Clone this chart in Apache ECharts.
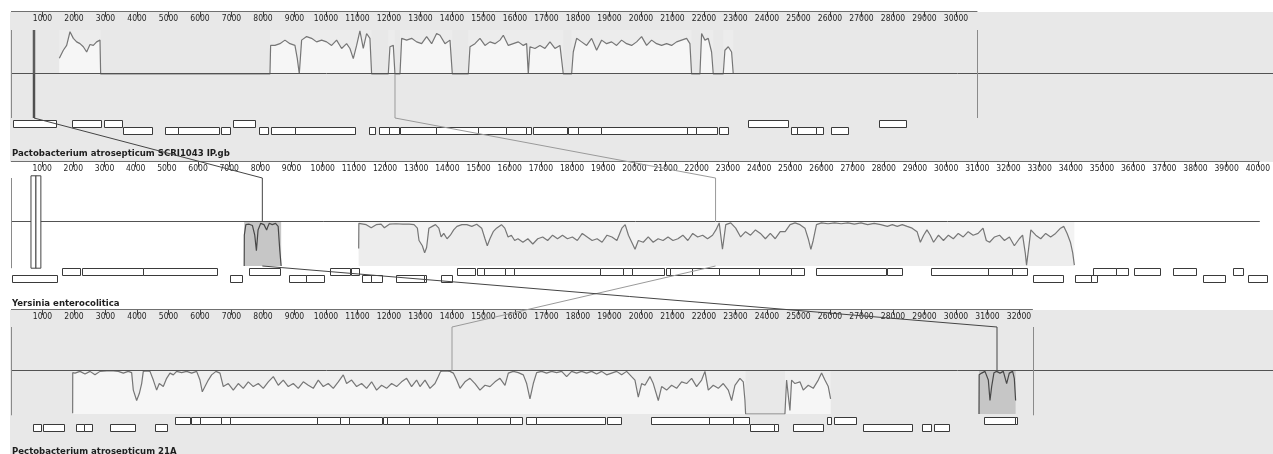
<!DOCTYPE html>
<html><head><meta charset="utf-8">
<script src="https://cdn.jsdelivr.net/npm/echarts@6/dist/echarts.min.js"></script>
<style>html,body{margin:0;padding:0;background:#fff;}#c{width:1273px;height:454px;}</style>
</head><body><div id="c"></div>
<script>
// ---------- data ----------
var genomeNames = ['Pactobacterium atrosepticum SCRI1043 IP.gb', 'Yersinia enterocolitica', 'Pectobacterium atrosepticum 21A'];
var genomeLen = [30680, 40400, 32440];
var ticks = [1000,2000,3000,4000,5000,6000,7000,8000,9000,10000,11000,12000,13000,14000,15000,16000,17000,18000,19000,20000,21000,22000,23000,24000,25000,26000,27000,28000,29000,30000,31000,32000,33000,34000,35000,36000,37000,38000,39000,40000];

// similarity profile, genome 1 (forward block: value = similarity above centre)
var profile1 = [[1534,0.36],[1661,0.54],[1767,0.65],[1873,0.96],[1979,0.81],[2084,0.73],[2190,0.69],[2296,0.62],[2402,0.5],[2508,0.67],[2613,0.65],[2719,0.73],[2825,0.77],[2846,0],
[8221,0],[8242,0.65],[8380,0.65],[8538,0.69],[8697,0.77],[8856,0.69],[9014,0.65],[9089,0.35],[9152,0],[9226,0.77],[9385,0.85],[9543,0.81],[9702,0.73],[9861,0.77],[10019,0.73],[10178,0.65],[10337,0.77],[10496,0.58],[10654,0.69],[10760,0.58],[10866,0.35],[10972,0.65],[11077,0.98],[11183,0.58],[11289,0.92],[11395,0.81],[11448,0],
[11977,0],[12030,0.62],[12136,0.65],[12189,0],
[12349,0],[12402,0.81],[12560,0.77],[12719,0.81],[12878,0.73],[13036,0.69],[13195,0.85],[13354,0.69],[13512,0.92],[13618,0.88],[13777,0.69],[13936,0.77],[14010,0],
[14518,0],[14571,0.62],[14729,0.69],[14888,0.81],[15047,0.65],[15205,0.73],[15364,0.69],[15523,0.77],[15629,0.88],[15787,0.65],[15946,0.69],[16105,0.73],[16263,0.65],[16369,0.69],[16422,0],[16475,0.62],[16634,0.58],[16792,0.65],[16951,0.58],[17110,0.73],[17268,0.58],[17427,0.65],[17533,0],
[17797,0],[17850,0.5],[17956,0.81],[18115,0.73],[18274,0.65],[18432,0.81],[18591,0.54],[18750,0.77],[18908,0.69],[19067,0.73],[19226,0.65],[19384,0.77],[19543,0.69],[19702,0.65],[19861,0.73],[20019,0.85],[20178,0.65],[20337,0.77],[20495,0.69],[20654,0.65],[20813,0.69],[20971,0.65],[21130,0.73],[21289,0.77],[21448,0.81],[21553,0.69],[21606,0],
[21871,0],[21924,0.92],[22029,0.77],[22135,0.81],[22241,0.5],[22294,0],
[22611,0],[22664,0.54],[22770,0.62],[22876,0.5],[22929,0]];

// genome 2 (inverted block: value = -depth below centre)
var profile2 = [[11154,-0.6],[11160,-0.03],[11186,-0.05],[11397,-0.06],[11556,-0.13],[11715,-0.06],[11873,-0.05],[11979,-0.13],[12138,-0.05],[12349,-0.04],[12561,-0.05],[12773,-0.05],[12931,-0.06],[13037,-0.14],[13090,-0.42],[13196,-0.54],[13270,-0.7],[13333,-0.58],[13407,-0.14],[13513,-0.1],[13619,-0.06],[13725,-0.14],[13799,-0.34],[13883,-0.26],[13989,-0.38],[14095,-0.3],[14201,-0.18],[14307,-0.1],[14465,-0.06],[14624,-0.06],[14783,-0.1],[14941,-0.05],[15100,-0.14],[15206,-0.38],[15280,-0.54],[15365,-0.38],[15470,-0.22],[15576,-0.14],[15735,-0.06],[15841,-0.14],[15947,-0.34],[16052,-0.3],[16158,-0.42],[16264,-0.38],[16423,-0.46],[16581,-0.38],[16740,-0.5],[16899,-0.38],[17057,-0.34],[17216,-0.42],[17375,-0.3],[17534,-0.38],[17692,-0.3],[17851,-0.38],[18010,-0.34],[18168,-0.42],[18327,-0.26],[18486,-0.34],[18644,-0.42],[18803,-0.38],[18962,-0.46],[19121,-0.3],[19279,-0.34],[19438,-0.42],[19597,-0.14],[19703,-0.06],[19808,-0.3],[19914,-0.46],[20020,-0.62],[20126,-0.42],[20284,-0.46],[20443,-0.34],[20602,-0.46],[20760,-0.38],[20919,-0.42],[21078,-0.34],[21237,-0.42],[21395,-0.38],[21554,-0.3],[21713,-0.42],[21871,-0.26],[22030,-0.34],[22189,-0.3],[22347,-0.38],[22506,-0.3],
[22614,-0.18],[22720,-0.02],[22825,-0.62],[22931,-0.06],[23090,-0.02],[23249,-0.14],[23407,-0.34],[23566,-0.22],[23725,-0.3],[23883,-0.18],[24042,-0.26],[24201,-0.38],[24360,-0.26],[24518,-0.38],[24677,-0.22],[24836,-0.22],[24994,-0.06],[25153,-0.02],[25312,-0.06],[25470,-0.14],[25576,-0.38],[25661,-0.62],[25735,-0.42],[25841,-0.06],[25999,-0.02],[26211,-0.04],[26423,-0.02],[26634,-0.04],[26846,-0.02],[27057,-0.05],[27269,-0.02],[27481,-0.06],[27692,-0.03],[27904,-0.06],[28115,-0.1],[28274,-0.06],[28433,-0.1],[28592,-0.06],[28750,-0.1],[28909,-0.14],[29068,-0.22],[29173,-0.46],[29279,-0.3],[29385,-0.18],[29491,-0.3],[29597,-0.46],[29755,-0.3],[29914,-0.42],[30073,-0.3],[30231,-0.38],[30390,-0.26],[30549,-0.34],[30708,-0.22],[30866,-0.3],[31025,-0.26],[31184,-0.14],[31289,-0.42],[31395,-0.46],[31554,-0.34],[31713,-0.3],[31871,-0.42],[32030,-0.34],[32189,-0.54],[32347,-0.38],[32453,-0.3],[32538,-0.7],[32580,-0.98],[32644,-0.62],[32718,-0.18],[32876,-0.3],[33035,-0.38],[33194,-0.26],[33353,-0.34],[33511,-0.26],[33670,-0.14],[33776,-0.1],[33882,-0.26],[33987,-0.46],[34061,-0.7],[34114,-0.98]];

// genome 3 (inverted block)
var profile3 = [[1957,-0.98],[1960,-0.05],[2032,-0.06],[2190,-0.02],[2349,-0.08],[2508,-0.02],[2666,-0.1],[2825,-0.02],[3037,-0.01],[3248,-0.01],[3407,-0.02],[3566,-0.06],[3724,-0.02],[3830,-0.05],[3883,-0.45],[3989,-0.69],[4073,-0.53],[4148,-0.3],[4200,-0.02],[4306,-0.01],[4412,-0.02],[4518,-0.22],[4624,-0.45],[4708,-0.3],[4835,-0.37],[4941,-0.18],[5047,-0.06],[5153,-0.1],[5258,-0.02],[5417,-0.05],[5576,-0.02],[5735,-0.06],[5893,-0.02],[5999,-0.22],[6073,-0.49],[6158,-0.37],[6264,-0.22],[6369,-0.1],[6507,-0.02],[6634,-0.06],[6740,-0.37],[6898,-0.3],[7057,-0.45],[7216,-0.3],[7374,-0.41],[7533,-0.26],[7692,-0.37],[7851,-0.3],[8009,-0.41],[8168,-0.26],[8327,-0.14],[8485,-0.34],[8644,-0.22],[8803,-0.37],[8961,-0.3],[9120,-0.41],[9279,-0.26],[9438,-0.34],[9596,-0.41],[9755,-0.22],[9914,-0.37],[10072,-0.3],[10231,-0.41],[10390,-0.26],[10548,-0.1],[10654,-0.3],[10813,-0.22],[10972,-0.37],[11130,-0.3],[11289,-0.41],[11448,-0.26],[11606,-0.45],[11765,-0.34],[11924,-0.41],[12083,-0.3],[12241,-0.37],[12400,-0.26],[12559,-0.18],[12717,-0.37],[12876,-0.22],
[12984,-0.37],[13143,-0.22],[13301,-0.41],[13460,-0.3],[13566,-0.14],[13640,-0.02],[13778,-0.01],[13936,-0.02],[14042,-0.06],[14148,-0.22],[14254,-0.41],[14412,-0.26],[14571,-0.18],[14730,-0.3],[14888,-0.45],[15047,-0.34],[15206,-0.37],[15365,-0.26],[15523,-0.18],[15682,-0.34],[15788,-0.06],[15946,-0.02],[16105,-0.05],[16264,-0.1],[16370,-0.3],[16475,-0.65],[16581,-0.3],[16687,-0.05],[16846,-0.02],[17004,-0.06],[17163,-0.02],[17322,-0.05],[17481,-0.02],[17639,-0.14],[17798,-0.02],[17957,-0.06],[18115,-0.02],[18274,-0.06],[18433,-0.02],[18591,-0.08],[18750,-0.02],[18909,-0.1],[19068,-0.06],[19226,-0.02],[19385,-0.1],[19544,-0.02],[19702,-0.14],[19808,-0.22],[19914,-0.61],[20020,-0.3],[20126,-0.34],[20284,-0.14],[20390,-0.3],[20549,-0.69],[20655,-0.37],[20813,-0.45],[20972,-0.34],[21131,-0.41],[21289,-0.26],[21448,-0.3],[21607,-0.18],[21765,-0.37],[21924,-0.22],[22030,-0.02],[22136,-0.45],[22294,-0.34],[22453,-0.41],[22612,-0.3],[22771,-0.45],[22876,-0.69],[22982,-0.34],[23141,-0.18],[23247,-0.26],[23300,-0.69],[23321,-1],
[24569,-1],[24622,-0.22],[24675,-0.18],[24728,-0.92],[24781,-0.22],[24887,-0.3],[25045,-0.26],[25151,-0.45],[25310,-0.34],[25468,-0.41],[25627,-0.22],[25733,-0.06],[25839,-0.22],[25945,-0.37],[26019,-0.65]];

// small dark (second) LCB profiles
var darkProfile2 = [[7481,-1],[7485,-0.3],[7534,-0.06],[7640,-0.05],[7746,-0.08],[7820,-0.3],[7873,-0.65],[7926,-0.18],[8011,-0.03],[8116,-0.06],[8201,-0.18],[8243,-0.1],[8286,-0.03],[8381,-0.06],[8487,-0.03],[8571,-0.1],[8624,-0.65],[8667,-1]];
var darkProfile3 = [[30730,-1],[30735,-0.1],[30814,-0.06],[30920,-0.02],[31026,-0.22],[31079,-0.69],[31132,-0.37],[31206,-0.05],[31290,-0.02],[31396,-0.06],[31502,-0.02],[31608,-0.3],[31692,-0.06],[31798,-0.02],[31851,-0.18],[31893,-0.69]];

// LCB block extents [start, end, yTop, yBottom]
var blocks1 = [[1534,2846,1,0],[8221,11448,1,0],[11977,12189,1,0],[12349,14010,1,0],[14518,17533,1,0],[17797,21606,1,0],[21871,22294,1,0],[22611,22929,1,0]];
var blocks2 = [[11154,34114,0,-1]];
var blocks3 = [[1957,23321,0,-1],[24569,26019,0,-1]];
var darkBlocks2 = [[7481,8667,0,-1]];
var darkBlocks3 = [[30730,31893,0,-1]];
var narrowBlock1 = [[690,770,1,-1]];
var openBlocks2 = [[641,800,1.05,-1.05],[800,958,1.05,-1.05]];

// LCB link anchor positions in the three genomes
var linkBig = [12190, 22603, 14000];
var linkDark = [730, 8063, 31302];

// annotated features [start, end, row]
var genes1 = [[57,1413,0],[1943,2851,0],[2968,3518,0],[7041,7752,0],[23381,24673,0],[27549,28397,0],
[3540,4470,1],[4883,5295,1],[5295,6619,1],[6651,6968,1],[7867,8152,1],[8248,9022,1],[9022,10914,1],[11371,11562,1],[11676,11994,1],[11994,12311,1],[12365,13492,1],[13492,14822,1],[14822,15705,1],[15705,16356,1],[16356,16514,1],[16587,17638,1],[17686,17987,1],[17987,18727,1],[18727,21470,1],[21470,21759,1],[21759,22400,1],[22473,22765,1],[24771,24952,1],[24952,25568,1],[25568,25762,1],[26029,26559,1]];
var genes2 = [[1646,2206,0],[2280,4248,0],[4248,6619,0],[7644,8641,0],[10248,10883,0],[10905,11149,0],[14323,14873,0],[14937,15168,0],[15168,15857,0],[15857,16152,0],[16152,18905,0],[18905,19645,0],[19645,19931,0],[19931,20959,0],[21010,21149,0],[21149,21835,0],[21835,22705,0],[22705,24006,0],[24006,25010,0],[25010,25435,0],[25825,28079,0],[28111,28578,0],[29518,31359,0],[31359,32101,0],[32101,32609,0],[34724,35435,0],[35435,35825,0],[36038,36863,0],[37286,38006,0],[39213,39530,0],
[37,1486,1],[7041,7413,1],[8914,9467,1],[9467,10057,1],[11254,11540,1],[11540,11889,1],[12365,13260,1],[13260,13302,1],[13794,14143,1],[32787,33752,1],[34121,34641,1],[34641,34832,1],[38248,38946,1],[39698,40300,1]];
var genes3 = [[693,937,1],[1010,1676,1],[2069,2333,1],[2333,2576,1],[3137,3931,1],[4567,4958,1],[23454,24238,1],[24238,24343,1],[24819,25771,1],[27041,28610,1],[28927,29212,1],[29295,29784,1],
[5200,5698,0],[5730,5994,0],[5994,6660,0],[6660,6968,0],[6968,9721,0],[9721,10460,0],[10460,10746,0],[10746,11762,0],[11816,11943,0],[11943,12629,0],[12629,13530,0],[13530,14800,0],[14800,15835,0],[15835,16229,0],[16343,16651,0],[16651,18873,0],[18927,19371,0],[20311,22152,0],[22152,22914,0],[22914,23422,0],[25889,26038,0],[26120,26841,0],[30883,31867,0],[31867,31943,0]];

// ---------- layout ----------
var W = 1273, LEFT = 11, PXPERBP = 0.0315;
var XMAX = (W - LEFT) / PXPERBP;
var gridTop = [30, 178, 327], gridH = [88, 88, 87];
var axisGap = [18, 16, 17];
var geneGap = [2, 2, 3];
var bandColor = '#e8e8e8';
var AXFONT = '"DejaVu Sans Condensed", "DejaVu Sans", sans-serif';

var chart = echarts.init(document.getElementById('c'), null, {renderer: 'canvas'});

function rectItem(fill, stroke) {
  return function (params, api) {
    var a = api.coord([api.value(0), api.value(2)]);
    var b = api.coord([api.value(1), api.value(3)]);
    return {type: 'rect', shape: {x: a[0], y: Math.min(a[1], b[1]), width: Math.max(1, b[0] - a[0]), height: Math.abs(b[1] - a[1])},
      style: {fill: fill, stroke: stroke || null, lineWidth: 1}};
  };
}
function geneItem(gap) {
  return function (params, api) {
    var a = api.coord([api.value(0), -1]);
    var b = api.coord([api.value(1), -1]);
    var x0 = Math.round(a[0]), x1 = Math.round(b[0]);
    var y = Math.round(a[1]) + gap + api.value(2) * 7;
    return {type: 'rect', shape: {x: x0 + 0.5, y: y + 0.5, width: Math.max(1, x1 - x0), height: 7},
      style: {fill: '#ffffff', stroke: '#3a3a3a', lineWidth: 1}};
  };
}
function vlineItem(color) {
  return function (params, api) {
    var a = api.coord([api.value(0), api.value(1)]);
    var b = api.coord([api.value(0), api.value(2)]);
    var x = Math.round(a[0]) + 0.5;
    return {type: 'line', shape: {x1: x, y1: a[1], x2: x, y2: b[1]}, style: {stroke: color, lineWidth: 1}};
  };
}
function hlineItem(gap, color) {
  return function (params, api) {
    var a = api.coord([api.value(0), api.value(2)]);
    var b = api.coord([api.value(1), api.value(2)]);
    var y = Math.round(a[1] - gap) - 0.5;
    return {type: 'line', shape: {x1: a[0], y1: y, x2: b[0], y2: y}, style: {stroke: color, lineWidth: 1}};
  };
}

var grids = [], xAxes = [], yAxes = [], series = [];
for (var i = 0; i < 3; i++) {
  var len = genomeLen[i];
  var tv = ticks.filter(function (v) { return v <= len; });
  grids.push({left: LEFT, right: 0, top: gridTop[i], height: gridH[i]});
  xAxes.push({type: 'value', gridIndex: i, min: 0, max: XMAX, position: 'top', offset: axisGap[i],
    axisLine: {show: false, onZero: false}, splitLine: {show: false},
    axisTick: {show: true, inside: true, length: 5, customValues: tv, lineStyle: {color: '#444', width: 1}},
    axisLabel: {show: true, inside: true, margin: 2, customValues: tv, fontSize: 8.5, fontFamily: AXFONT, color: '#1e1e1e',
      formatter: function (v) { return String(v); }}});
  yAxes.push({type: 'value', gridIndex: i, min: -1, max: 1, show: false});
  // top axis line (ends at genome length)
  series.push({type: 'custom', xAxisIndex: i, yAxisIndex: i, z: 1, silent: true,
    renderItem: hlineItem(axisGap[i], '#707070'), encode: {x: [0, 1], y: 2}, data: [[0, Math.min(len, XMAX), 1]]});
  // centre line (full width)
  series.push({type: 'custom', xAxisIndex: i, yAxisIndex: i, z: 3, silent: true,
    renderItem: hlineItem(0, '#525252'), encode: {x: [0, 1], y: 2}, data: [[0, XMAX, 0]]});
  series.push({type: 'custom', xAxisIndex: i, yAxisIndex: i, z: 4, silent: true,
    renderItem: geneItem(geneGap[i]), encode: {x: [0, 1], y: 2}, data: [genes1, genes2, genes3][i]});
  var bl = [[0, 1, -1]];
  if (len < XMAX) bl.push([len, 1, -1]);
  if (i === 1) bl = [[0, 1, -1.05]];
  if (i === 2) bl = [[0, 1, -1.03], [len, 1, -1.03]];
  series.push({type: 'custom', xAxisIndex: i, yAxisIndex: i, z: 3, silent: true,
    renderItem: vlineItem('#8a8a8a'), encode: {x: 0, y: [1, 2]}, data: bl});
}

// light LCB blocks
series.push({type: 'custom', xAxisIndex: 0, yAxisIndex: 0, z: 1, silent: true, renderItem: rectItem('#ececec'), encode: {x: [0, 1], y: [2, 3]}, data: blocks1});
series.push({type: 'custom', xAxisIndex: 1, yAxisIndex: 1, z: 1, silent: true, renderItem: rectItem('#f3f3f3'), encode: {x: [0, 1], y: [2, 3]}, data: blocks2});
series.push({type: 'custom', xAxisIndex: 2, yAxisIndex: 2, z: 1, silent: true, renderItem: rectItem('#efefef'), encode: {x: [0, 1], y: [2, 3]}, data: blocks3});
// dark LCB blocks
series.push({type: 'custom', xAxisIndex: 1, yAxisIndex: 1, z: 1, silent: true, renderItem: rectItem('#c6c6c6'), encode: {x: [0, 1], y: [2, 3]}, data: darkBlocks2});
series.push({type: 'custom', xAxisIndex: 2, yAxisIndex: 2, z: 1, silent: true, renderItem: rectItem('#c6c6c6'), encode: {x: [0, 1], y: [2, 3]}, data: darkBlocks3});
series.push({type: 'custom', xAxisIndex: 0, yAxisIndex: 0, z: 3, silent: true, renderItem: rectItem('#5c5c5c'), encode: {x: [0, 1], y: [2, 3]}, data: narrowBlock1});
series.push({type: 'custom', xAxisIndex: 1, yAxisIndex: 1, z: 3, silent: true, renderItem: rectItem('#ffffff', '#444'), encode: {x: [0, 1], y: [2, 3]}, data: openBlocks2});

function profileSeries(idx, data, lineColor, areaColor, origin) {
  return {type: 'line', xAxisIndex: idx, yAxisIndex: idx, data: data, symbol: 'none', showSymbol: false, silent: true, z: 2,
    lineStyle: {color: lineColor, width: 1.2}, areaStyle: {color: areaColor, opacity: 1, origin: origin}};
}
series.push(profileSeries(0, profile1, '#767676', '#f6f6f6', 'auto'));
series.push(profileSeries(1, profile2, '#767676', '#ededed', 'start'));
series.push(profileSeries(2, profile3, '#767676', '#f6f6f6', 'start'));
series.push(profileSeries(1, darkProfile2, '#484848', 'rgba(0,0,0,0)', 'start'));
series.push(profileSeries(2, darkProfile3, '#484848', 'rgba(0,0,0,0)', 'start'));

var bands = [
  {type: 'rect', shape: {x: 10, y: 12, width: W - 10, height: 150}, style: {fill: bandColor}, z: -10, silent: true},
  {type: 'rect', shape: {x: 10, y: 310, width: W - 10, height: 144}, style: {fill: bandColor}, z: -10, silent: true}
];
var labelY = [154, 303.5, 452];
var labels = genomeNames.map(function (n, k) {
  return {type: 'text', z: 50, silent: true, style: {x: 12, y: labelY[k], text: n, verticalAlign: 'middle',
    font: 'bold 9.5px "DejaVu Sans Condensed", "DejaVu Sans", sans-serif', fill: '#1e1e1e'}};
});

chart.setOption({animation: false, backgroundColor: '#ffffff', grid: grids, xAxis: xAxes, yAxis: yAxes, series: series,
  graphic: {elements: bands.concat(labels)}});

function px(g, x, y) { return chart.convertToPixel({gridIndex: g}, [x, y]); }
function links(pos, color) {
  return [
    {type: 'polyline', z: 60, silent: true, shape: {points: [px(0, pos[0], 0), px(0, pos[0], -1), px(1, pos[1], 1), px(1, pos[1], 0)]}, style: {stroke: color, lineWidth: 1, fill: null}},
    {type: 'polyline', z: 60, silent: true, shape: {points: [px(1, pos[1], -1), px(2, pos[2], 1), px(2, pos[2], 0)]}, style: {stroke: color, lineWidth: 1, fill: null}}
  ];
}
chart.setOption({graphic: {elements: bands.concat(labels, links(linkBig, '#9a9a9a'), links(linkDark, '#454545'))}});
</script></body></html>
